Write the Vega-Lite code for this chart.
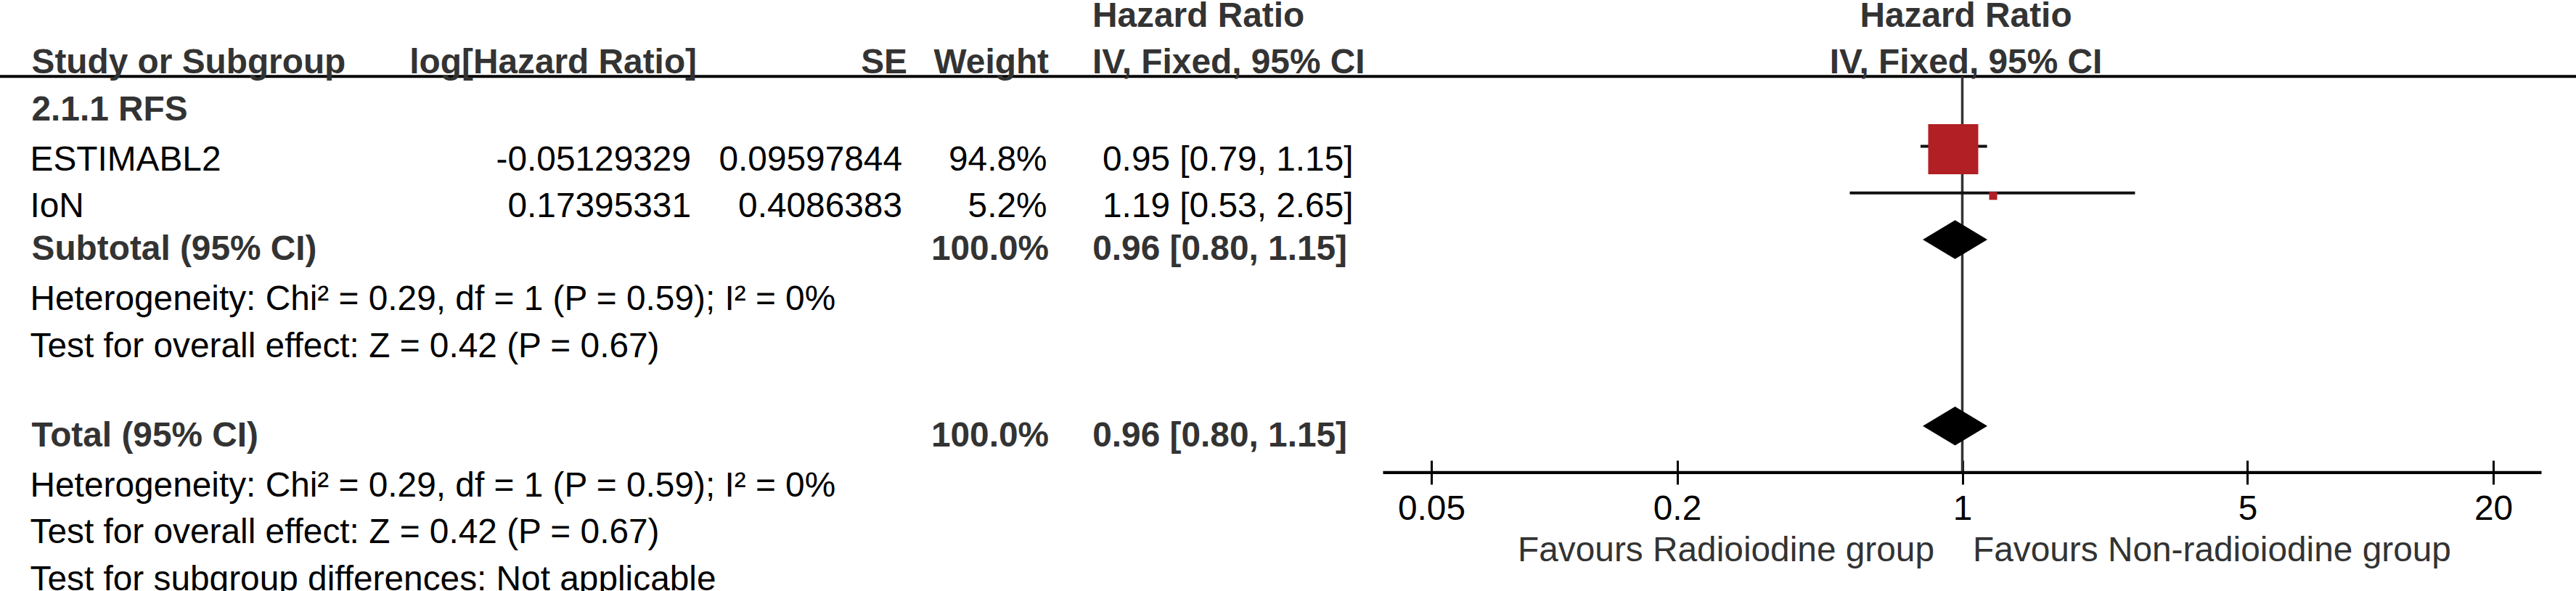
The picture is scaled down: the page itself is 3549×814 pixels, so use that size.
{
  "$schema": "https://vega.github.io/schema/vega-lite/v6.json",
  "width": 3549,
  "height": 814,
  "padding": 0,
  "autosize": {"type": "none"},
  "background": "white",
  "config": {"view": {"stroke": null}, "text": {"font": "Liberation Sans", "fontSize": 47.8}},
  "datasets": {
    "table": [
      {"row": 0, "col": 5, "kind": "head", "text": "Hazard Ratio"},
      {"row": 1, "col": 1, "kind": "head", "text": "Study or Subgroup"},
      {"row": 1, "col": 2, "kind": "head", "text": "log[Hazard Ratio]"},
      {"row": 1, "col": 3, "kind": "head", "text": "SE"},
      {"row": 1, "col": 4, "kind": "head", "text": "Weight"},
      {"row": 1, "col": 5, "kind": "head", "text": "IV, Fixed, 95% CI"},
      {"row": 2, "col": 1, "kind": "group", "text": "2.1.1 RFS"},
      {"row": 3, "col": 1, "kind": "study", "text": "ESTIMABL2"},
      {"row": 3, "col": 2, "kind": "study", "text": "-0.05129329"},
      {"row": 3, "col": 3, "kind": "study", "text": "0.09597844"},
      {"row": 3, "col": 4, "kind": "study", "text": "94.8%"},
      {"row": 3, "col": 6, "kind": "study", "text": "0.95 [0.79, 1.15]"},
      {"row": 4, "col": 1, "kind": "study", "text": "IoN"},
      {"row": 4, "col": 2, "kind": "study", "text": "0.17395331"},
      {"row": 4, "col": 3, "kind": "study", "text": "0.4086383"},
      {"row": 4, "col": 4, "kind": "study", "text": "5.2%"},
      {"row": 4, "col": 6, "kind": "study", "text": "1.19 [0.53, 2.65]"},
      {"row": 5, "col": 1, "kind": "pooled", "text": "Subtotal (95% CI)"},
      {"row": 5, "col": 4, "kind": "pooled", "text": "100.0%"},
      {"row": 5, "col": 6, "kind": "pooled", "text": "0.96 [0.80, 1.15]"},
      {"row": 6, "col": 1, "kind": "note", "text": "Heterogeneity: Chi² = 0.29, df = 1 (P = 0.59); I² = 0%"},
      {"row": 7, "col": 1, "kind": "note", "text": "Test for overall effect: Z = 0.42 (P = 0.67)"},
      {"row": 9, "col": 1, "kind": "pooled", "text": "Total (95% CI)"},
      {"row": 9, "col": 4, "kind": "pooled", "text": "100.0%"},
      {"row": 9, "col": 6, "kind": "pooled", "text": "0.96 [0.80, 1.15]"},
      {"row": 10, "col": 1, "kind": "note", "text": "Heterogeneity: Chi² = 0.29, df = 1 (P = 0.59); I² = 0%"},
      {"row": 11, "col": 1, "kind": "note", "text": "Test for overall effect: Z = 0.42 (P = 0.67)"},
      {"row": 12, "col": 1, "kind": "note", "text": "Test for subgroup differences: Not applicable"},
      {"row": 0, "kind": "plothead", "text": "Hazard Ratio"},
      {"row": 1, "kind": "plothead", "text": "IV, Fixed, 95% CI"}
    ],
    "forest": [
      {"study": "ESTIMABL2", "kind": "study", "row": 3, "hr": 0.95, "lo": 0.79, "hi": 1.15, "weight": 94.8},
      {"study": "IoN", "kind": "study", "row": 4, "hr": 1.19, "lo": 0.53, "hi": 2.65, "weight": 5.2},
      {"study": "Subtotal (95% CI)", "kind": "subtotal", "row": 5, "hr": 0.96, "lo": 0.80, "hi": 1.15, "weight": 100},
      {"study": "Total (95% CI)", "kind": "total", "row": 9, "hr": 0.96, "lo": 0.80, "hi": 1.15, "weight": 100}
    ],
    "favours": [
      {"side": "left", "text": "Favours Radioiodine group"},
      {"side": "right", "text": "Favours Non-radioiodine group"}
    ]
  },
  "resolve": {"scale": {"x": "independent"}, "axis": {"x": "independent"}},
  "layer": [
    {
      "data": {"values": [{}]},
      "mark": {"type": "rule", "color": "#000000", "strokeWidth": 4},
      "encoding": {
        "y": {"datum": 1.5, "type": "quantitative", "scale": {"domain": [-0.14, 12.54], "reverse": true, "nice": false, "zero": false}, "axis": null}
      }
    },
    {
      "data": {"values": [{}]},
      "mark": {"type": "rule", "color": "#333333", "strokeWidth": 3.5},
      "encoding": {
        "x": {"datum": 1, "type": "quantitative", "scale": {"type": "log", "domain": [0.03808, 26.26], "range": [1905.5, 3501.5], "nice": false}, "axis": null},
        "y": {"datum": 1.5, "type": "quantitative", "scale": {"domain": [-0.14, 12.54], "reverse": true, "nice": false, "zero": false}, "axis": null},
        "y2": {"datum": 10}
      }
    },
    {
      "data": {"name": "forest"},
      "transform": [{"filter": "datum.kind == 'study'"}],
      "mark": {"type": "rule", "color": "#111111", "strokeWidth": 4},
      "encoding": {
        "x": {"field": "lo", "type": "quantitative", "scale": {"type": "log", "domain": [0.03808, 26.26], "range": [1905.5, 3501.5], "nice": false},
          "axis": {"values": [0.05, 0.2, 1, 5, 20], "format": "~g", "orient": "bottom", "offset": -180, "domain": false, "grid": false, "ticks": true, "tickSize": 33, "tickWidth": 3, "tickColor": "#000000", "labelFont": "Liberation Sans", "labelFontSize": 47.8, "labelColor": "#000000", "labelPadding": 48, "labelBaseline": "alphabetic", "labelFlush": false, "labelOverlap": false, "title": null}},
        "x2": {"field": "hi"},
        "y": {"field": "row", "type": "quantitative", "scale": {"domain": [-0.14, 12.54], "reverse": true, "nice": false, "zero": false}, "axis": null}
      }
    },
    {
      "data": {"name": "forest"},
      "transform": [{"filter": "datum.kind == 'study'"}],
      "mark": {"type": "point", "shape": "square", "filled": true, "opacity": 1, "color": "#B21F24", "yOffset": 4},
      "encoding": {
        "x": {"field": "hr", "type": "quantitative", "scale": {"type": "log", "domain": [0.03808, 26.26], "range": [1905.5, 3501.5], "nice": false}, "axis": null},
        "y": {"field": "row", "type": "quantitative", "scale": {"domain": [-0.14, 12.54], "reverse": true, "nice": false, "zero": false}, "axis": null},
        "size": {"field": "weight", "type": "quantitative", "scale": {"domain": [5.2, 94.8], "range": [121, 4761], "zero": false}, "legend": null}
      }
    },
    {
      "data": {"name": "forest"},
      "transform": [{"filter": "datum.kind != 'study'"}],
      "mark": {"type": "point", "shape": "M-1,0L0,-0.6L1,0L0,0.6Z", "filled": true, "opacity": 1, "color": "#000000", "size": 7921},
      "encoding": {
        "x": {"field": "hr", "type": "quantitative", "scale": {"type": "log", "domain": [0.03808, 26.26], "range": [1905.5, 3501.5], "nice": false}, "axis": null},
        "y": {"field": "row", "type": "quantitative", "scale": {"domain": [-0.14, 12.54], "reverse": true, "nice": false, "zero": false}, "axis": null}
      }
    },
    {
      "data": {"values": [{}]},
      "mark": {"type": "rule", "color": "#000000", "strokeWidth": 4.3},
      "encoding": {
        "x": {"datum": 0.03808, "type": "quantitative", "scale": {"type": "log", "domain": [0.03808, 26.26], "range": [1905.5, 3501.5], "nice": false}, "axis": null},
        "x2": {"datum": 26.26},
        "y": {"datum": 10, "type": "quantitative", "scale": {"domain": [-0.14, 12.54], "reverse": true, "nice": false, "zero": false}, "axis": null}
      }
    },
    {
      "data": {"name": "table"},
      "transform": [{"filter": "datum.col == 1 && (datum.kind == 'study' || datum.kind == 'note')"}],
      "mark": {"type": "text", "align": "left", "baseline": "alphabetic", "dy": 33.2, "font": "Liberation Sans", "fontSize": 47.8, "color": "#000000"},
      "encoding": {
        "x": {"field": "col", "type": "quantitative", "scale": {"type": "linear", "domain": [1, 2, 3, 4, 5, 6], "range": [41.5, 952, 1243, 1442.5, 1505, 1864.5], "zero": false, "nice": false}, "axis": null},
        "y": {"field": "row", "type": "quantitative", "scale": {"domain": [-0.14, 12.54], "reverse": true, "nice": false, "zero": false}, "axis": null},
        "text": {"field": "text"}
      }
    },
    {
      "data": {"name": "table"},
      "transform": [{"filter": "(datum.col == 1 || datum.col == 5) && (datum.kind == 'head' || datum.kind == 'group' || datum.kind == 'pooled')"}],
      "mark": {"type": "text", "align": "left", "baseline": "alphabetic", "dy": 28.3, "font": "Liberation Sans", "fontSize": 47.8, "fontWeight": "bold", "color": "#333333"},
      "encoding": {
        "x": {"field": "col", "type": "quantitative", "scale": {"type": "linear", "domain": [1, 2, 3, 4, 5, 6], "range": [43.5, 960, 1250, 1445, 1505, 1856], "zero": false, "nice": false}, "axis": null},
        "y": {"field": "row", "type": "quantitative", "scale": {"domain": [-0.14, 12.54], "reverse": true, "nice": false, "zero": false}, "axis": null},
        "text": {"field": "text"}
      }
    },
    {
      "data": {"name": "table"},
      "transform": [{"filter": "datum.col != 1 && datum.col != 5 && datum.kind == 'study'"}],
      "mark": {"type": "text", "align": "right", "baseline": "alphabetic", "dy": 33.2, "font": "Liberation Sans", "fontSize": 47.8, "color": "#000000"},
      "encoding": {
        "x": {"field": "col", "type": "quantitative", "scale": {"type": "linear", "domain": [1, 2, 3, 4, 5, 6], "range": [41.5, 952, 1243, 1442.5, 1505, 1864.5], "zero": false, "nice": false}, "axis": null},
        "y": {"field": "row", "type": "quantitative", "scale": {"domain": [-0.14, 12.54], "reverse": true, "nice": false, "zero": false}, "axis": null},
        "text": {"field": "text"}
      }
    },
    {
      "data": {"name": "table"},
      "transform": [{"filter": "datum.col != 1 && datum.col != 5 && (datum.kind == 'head' || datum.kind == 'pooled')"}],
      "mark": {"type": "text", "align": "right", "baseline": "alphabetic", "dy": 28.3, "font": "Liberation Sans", "fontSize": 47.8, "fontWeight": "bold", "color": "#333333"},
      "encoding": {
        "x": {"field": "col", "type": "quantitative", "scale": {"type": "linear", "domain": [1, 2, 3, 4, 5, 6], "range": [43.5, 960, 1250, 1445, 1505, 1856], "zero": false, "nice": false}, "axis": null},
        "y": {"field": "row", "type": "quantitative", "scale": {"domain": [-0.14, 12.54], "reverse": true, "nice": false, "zero": false}, "axis": null},
        "text": {"field": "text"}
      }
    },
    {
      "data": {"name": "table"},
      "transform": [{"filter": "datum.kind == 'plothead'"}],
      "mark": {"type": "text", "align": "center", "baseline": "alphabetic", "dy": 28.3, "dx": 5, "font": "Liberation Sans", "fontSize": 47.8, "fontWeight": "bold", "color": "#333333"},
      "encoding": {
        "x": {"datum": 1, "type": "quantitative", "scale": {"type": "log", "domain": [0.03808, 26.26], "range": [1905.5, 3501.5], "nice": false}, "axis": null},
        "y": {"field": "row", "type": "quantitative", "scale": {"domain": [-0.14, 12.54], "reverse": true, "nice": false, "zero": false}, "axis": null},
        "text": {"field": "text"}
      }
    },
    {
      "data": {"name": "favours"},
      "transform": [{"filter": "datum.side == 'left'"}],
      "mark": {"type": "text", "align": "right", "baseline": "alphabetic", "dy": -6.7, "dx": -38.5, "font": "Liberation Sans", "fontSize": 47.8, "color": "#333333"},
      "encoding": {
        "x": {"datum": 1, "type": "quantitative", "scale": {"type": "log", "domain": [0.03808, 26.26], "range": [1905.5, 3501.5], "nice": false}, "axis": null},
        "y": {"datum": 12, "type": "quantitative", "scale": {"domain": [-0.14, 12.54], "reverse": true, "nice": false, "zero": false}, "axis": null},
        "text": {"field": "text"}
      }
    },
    {
      "data": {"name": "favours"},
      "transform": [{"filter": "datum.side == 'right'"}],
      "mark": {"type": "text", "align": "left", "baseline": "alphabetic", "dy": -6.7, "dx": 14.5, "font": "Liberation Sans", "fontSize": 47.8, "color": "#333333"},
      "encoding": {
        "x": {"datum": 1, "type": "quantitative", "scale": {"type": "log", "domain": [0.03808, 26.26], "range": [1905.5, 3501.5], "nice": false}, "axis": null},
        "y": {"datum": 12, "type": "quantitative", "scale": {"domain": [-0.14, 12.54], "reverse": true, "nice": false, "zero": false}, "axis": null},
        "text": {"field": "text"}
      }
    }
  ]
}
